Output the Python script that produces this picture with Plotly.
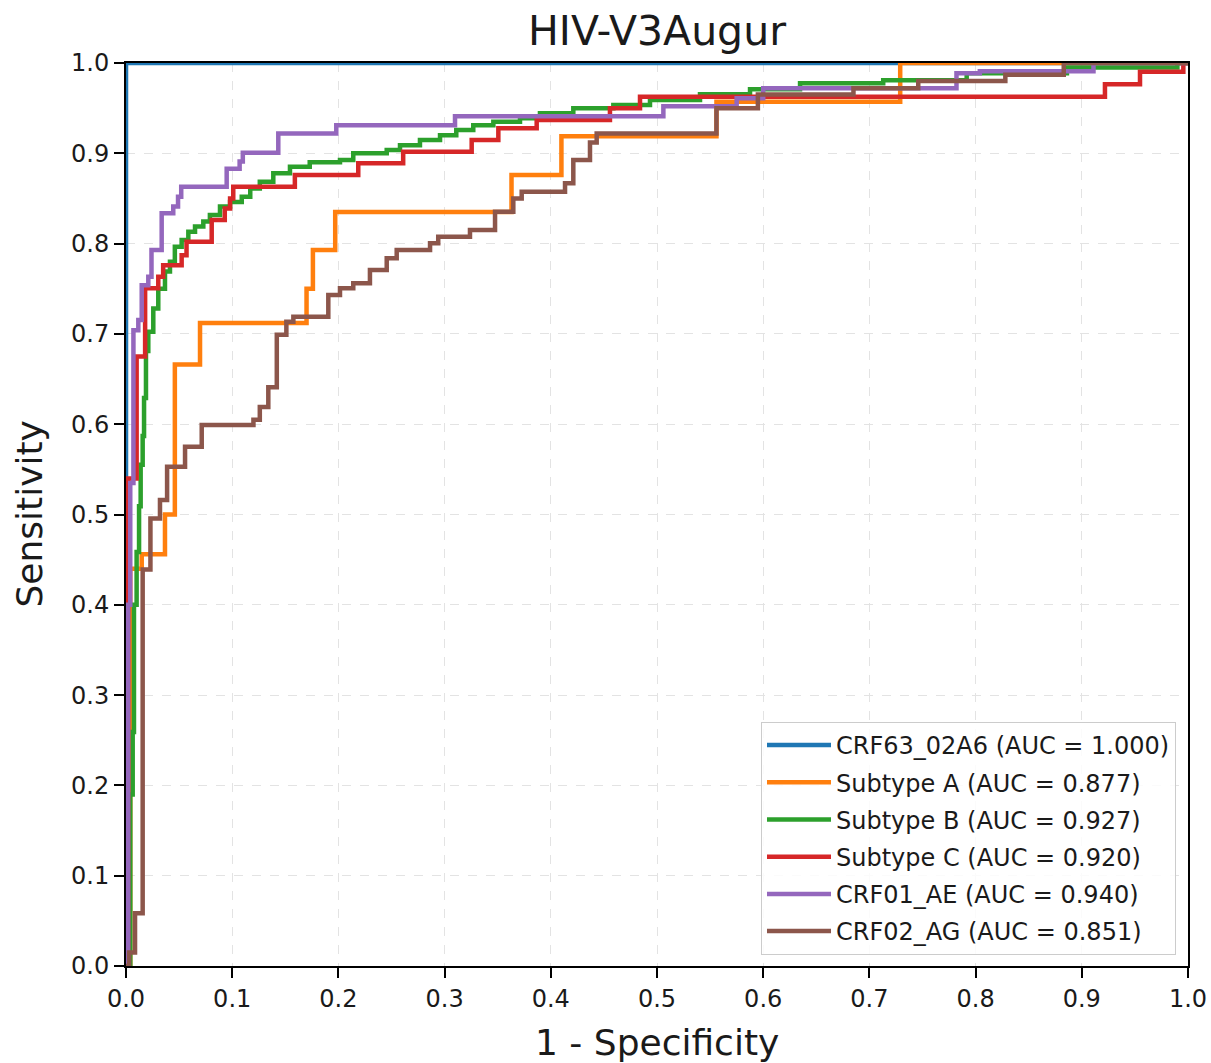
import plotly.graph_objects as go

# ---- data: ROC step corners (fpr where tpr steps up, new tpr level) ----
labels = ["CRF63_02A6", "Subtype A", "Subtype B", "Subtype C", "CRF01_AE", "CRF02_AG"]
aucs = [1.000, 0.877, 0.927, 0.920, 0.940, 0.851]
colors = ["#1f77b4", "#ff7f0e", "#2ca02c", "#d62728", "#9467bd", "#8c564b"]

crf63_fpr = [0.0]
crf63_tpr = [1.0]

subA_fpr = [0.004, 0.0148, 0.0367, 0.046, 0.0697, 0.170, 0.176, 0.197, 0.363, 0.410, 0.556, 0.729]
subA_tpr = [0.44, 0.456, 0.5, 0.666, 0.712, 0.750, 0.793, 0.835, 0.876, 0.919, 0.957, 1.0]

subB_fpr = [0.004, 0.0063, 0.0075, 0.01, 0.0123, 0.0138, 0.0157, 0.017, 0.0188, 0.021, 0.0257,
            0.0304, 0.0367, 0.0414, 0.046, 0.0524, 0.0587, 0.065, 0.0728, 0.079, 0.0885, 0.098,
            0.109, 0.117, 0.126, 0.1387, 0.1544, 0.173, 0.2015, 0.214, 0.2455, 0.258, 0.2768,
            0.2957, 0.311, 0.327, 0.3459, 0.371, 0.3898, 0.4212, 0.4589, 0.4934, 0.5405, 0.5876,
            0.6347, 0.713, 0.7916, 0.886, 0.99]
subB_tpr = [0.19, 0.259, 0.40, 0.4585, 0.509, 0.555, 0.587, 0.629, 0.681, 0.7025, 0.728,
            0.750, 0.769, 0.780, 0.7966, 0.804, 0.813, 0.819, 0.8245, 0.8317, 0.841, 0.846,
            0.852, 0.861, 0.8686, 0.8778, 0.885, 0.890, 0.8926, 0.900, 0.9037, 0.909, 0.9147,
            0.920, 0.9258, 0.931, 0.935, 0.9387, 0.9443, 0.950, 0.9535, 0.959, 0.9654, 0.971,
            0.9775, 0.981, 0.9886, 0.995, 1.0]

subC_fpr = [0.002, 0.01, 0.018, 0.0304, 0.035, 0.0524, 0.057, 0.0807, 0.093, 0.098, 0.101,
            0.159, 0.2187, 0.261, 0.3255, 0.3506, 0.3867, 0.4557, 0.484, 0.9218, 0.9548, 0.9956]
subC_tpr = [0.54, 0.675, 0.7505, 0.7634, 0.776, 0.787, 0.802, 0.826, 0.839, 0.850, 0.863,
            0.876, 0.889, 0.9018, 0.9147, 0.9277, 0.9369, 0.950, 0.9627, 0.9764, 0.9904, 1.0]

ae_fpr = [0.002, 0.004, 0.007, 0.0116, 0.0148, 0.021, 0.024, 0.0336, 0.0445, 0.049, 0.052,
          0.0948, 0.107, 0.11, 0.1434, 0.198, 0.3098, 0.506, 0.575, 0.600, 0.782, 0.804, 0.911]
ae_tpr = [0.40, 0.535, 0.704, 0.7154, 0.754, 0.7634, 0.793, 0.8335, 0.841, 0.852, 0.863,
          0.883, 0.891, 0.9007, 0.922, 0.931, 0.941, 0.952, 0.961, 0.972, 0.9886, 0.991, 1.0]

ag_fpr = [0.003, 0.0085, 0.0157, 0.023, 0.032, 0.0387, 0.0556, 0.0713, 0.12, 0.126, 0.134,
          0.142, 0.151, 0.1576, 0.1905, 0.2015, 0.214, 0.2297, 0.2455, 0.2549, 0.2863, 0.294,
          0.3239, 0.3475, 0.3647, 0.3726, 0.4134, 0.4212, 0.4369, 0.4432, 0.556, 0.595, 0.685,
          0.746, 0.828, 0.883]
ag_tpr = [0.015, 0.0585, 0.439, 0.4956, 0.516, 0.553, 0.575, 0.599, 0.605, 0.619, 0.641,
          0.699, 0.7135, 0.719, 0.743, 0.7505, 0.756, 0.7708, 0.7837, 0.793, 0.8003, 0.8076,
          0.815, 0.8353, 0.850, 0.8575, 0.8667, 0.8926, 0.912, 0.922, 0.950, 0.965, 0.972,
          0.980, 0.987, 1.0]

series = [(crf63_fpr, crf63_tpr), (subA_fpr, subA_tpr), (subB_fpr, subB_tpr),
          (subC_fpr, subC_tpr), (ae_fpr, ae_tpr), (ag_fpr, ag_tpr)]


def staircase(fx, ty):
    xs, ys = [0.0], [0.0]
    prev = 0.0
    for a, b in zip(fx, ty):
        xs += [a, a]
        ys += [prev, b]
        prev = b
    xs.append(1.0)
    ys.append(prev)
    return xs, ys


FONT = "DejaVu Sans"
fig = go.Figure()
for i, ((fx, ty), name, auc, col) in enumerate(zip(series, labels, aucs, colors)):
    xs, ys = staircase(fx, ty)
    fig.add_trace(go.Scatter(
        x=xs, y=ys, mode="lines",
        line=dict(color=col, width=4.5),
        name=f"{name} (AUC = {auc:.3f})",
        legendgroup=f"g{i}",
    ))

axis_common = dict(
    range=[0, 1], dtick=0.1, tick0=0, tickformat=".1f",
    showline=True, linecolor="black", linewidth=2, mirror=True,
    ticks="outside", ticklen=10, tickwidth=2, tickcolor="black",
    showgrid=True, gridcolor="#e3e3e3", gridwidth=1, griddash="dash",
    zeroline=False, automargin=False,
    tickfont=dict(family=FONT, size=24, color="#1a1a1a"),
)

fig.update_layout(
    width=1211, height=1063,
    margin=dict(l=126, r=23, t=63, b=97, autoexpand=False),
    paper_bgcolor="white", plot_bgcolor="white",
    title=dict(text="HIV-V3Augur", x=0.5, xref="paper", xanchor="center",
               y=1 - 31 / 1063, yref="container", yanchor="middle",
               font=dict(family=FONT, size=41, color="#1a1a1a")),
    xaxis=dict(**axis_common),
    yaxis=dict(**axis_common),
    showlegend=True,
    legend=dict(
        x=0.9887, y=0.0122, xanchor="right", yanchor="bottom",
        bgcolor="rgba(255,255,255,0.85)", bordercolor="#cccccc", borderwidth=1,
        font=dict(family=FONT, size=24, color="#1a1a1a"),
        tracegroupgap=3, itemwidth=64,
    ),
    annotations=[
        dict(text="1 - Specificity", xref="paper", yref="paper", x=0.5, y=0,
             xanchor="center", yanchor="middle", yshift=-76, showarrow=False,
             font=dict(family=FONT, size=36, color="#1a1a1a")),
        dict(text="Sensitivity", xref="paper", yref="paper", x=0, y=0.5,
             xanchor="center", yanchor="middle", xshift=-97, textangle=-90,
             showarrow=False, font=dict(family=FONT, size=36, color="#1a1a1a")),
    ],
)

fig.write_html("out.html")
